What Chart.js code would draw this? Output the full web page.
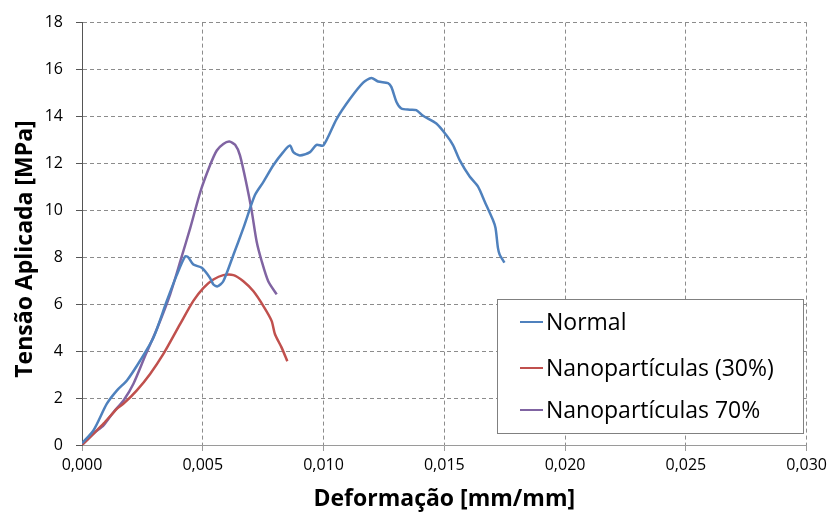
<!DOCTYPE html>
<html>
<head>
<meta charset="utf-8">
<script src="https://cdn.jsdelivr.net/npm/chart.js@4.4.0/dist/chart.umd.min.js"></script>
<style>
  html, body { margin: 0; padding: 0; background: #fff; }
  #wrap { width: 832px; height: 517px; position: relative; }
</style>
</head>
<body>
<div id="wrap"><canvas id="chart"></canvas></div>
<script>
// Normal
const normalX = [0, 0.00048, 0.00103, 0.00145, 0.00186, 0.00241, 0.00296, 0.00351, 0.00393, 0.00427, 0.0044, 0.00461, 0.00496, 0.0053, 0.00544, 0.00561, 0.00585, 0.00627, 0.00668, 0.00716, 0.00751, 0.00792, 0.00833, 0.00861, 0.00875, 0.00902, 0.00944, 0.00971, 0.00999, 0.01054, 0.01109, 0.01164, 0.01198, 0.01226, 0.01267, 0.01281, 0.01302, 0.01322, 0.01357, 0.01384, 0.01412, 0.01467, 0.01508, 0.01536, 0.01563, 0.01605, 0.01639, 0.01667, 0.01701, 0.01712, 0.01722, 0.01729, 0.01749];
const normalY = [0.07, 0.63, 1.76, 2.33, 2.75, 3.6, 4.58, 6.14, 7.26, 8.04, 8.0, 7.69, 7.55, 7.12, 6.84, 6.76, 6.98, 8.11, 9.24, 10.65, 11.21, 11.92, 12.48, 12.76, 12.48, 12.34, 12.48, 12.79, 12.76, 13.89, 14.74, 15.44, 15.64, 15.49, 15.42, 15.25, 14.62, 14.34, 14.29, 14.27, 14.03, 13.7, 13.21, 12.78, 12.15, 11.44, 11.02, 10.38, 9.6, 9.25, 8.4, 8.12, 7.77];

// Nanopartículas (30%)
const nano30X = [0, 0.00048, 0.0009, 0.00145, 0.00172, 0.00227, 0.00282, 0.00337, 0.00406, 0.00461, 0.00503, 0.00544, 0.00585, 0.00627, 0.00668, 0.00709, 0.00751, 0.00785, 0.00799, 0.00826, 0.0085];
const nano30Y = [0, 0.49, 0.92, 1.55, 1.76, 2.33, 3.03, 3.88, 5.15, 6.14, 6.7, 7.05, 7.24, 7.24, 6.98, 6.56, 5.92, 5.29, 4.72, 4.16, 3.57];

// Nanopartículas 70%
const nano70X = [0, 0.00048, 0.0009, 0.00131, 0.00172, 0.00213, 0.00262, 0.0031, 0.00365, 0.00413, 0.00448, 0.0049, 0.0053, 0.00558, 0.00585, 0.0061, 0.00634, 0.00654, 0.00682, 0.00702, 0.00723, 0.00744, 0.00771, 0.00806];
const nano70Y = [0, 0.49, 0.85, 1.41, 1.9, 2.61, 3.81, 4.94, 6.42, 8.04, 9.24, 10.79, 11.92, 12.55, 12.83, 12.93, 12.79, 12.34, 11.07, 10.01, 8.67, 7.83, 6.98, 6.42];

const seriesNames = ['Normal', 'Nanopartículas (30%)', 'Nanopartículas 70%'];
const colors = ['#4F81BD', '#C0504D', '#8064A2'];
const yTitle = 'Tensão Aplicada [MPa]';
const xTitle = 'Deformação [mm/mm]';

const FONT = '"Open Sans", Lato, sans-serif';

function toPoints(xs, ys) {
    return xs.map((x, i) => ({ x: x, y: ys[i] }));
}

// Legend box inside the plot area + y title placed like the Excel one
const boxLegend = {
    id: 'boxLegend',
    afterDraw(chart) {
        const ctx = chart.ctx;
        const x0 = 497, y0 = 299, w = 306, h = 134;
        ctx.save();
        ctx.fillStyle = '#fff';
        ctx.fillRect(x0, y0, w, h);
        ctx.strokeStyle = '#808080';
        ctx.lineWidth = 1;
        ctx.strokeRect(x0 + 0.5, y0 + 0.5, w, h);
        ctx.font = '23px ' + FONT;
        ctx.textBaseline = 'middle';
        ctx.fillStyle = '#000';
        const rows = [322, 368, 410];
        chart.data.datasets.forEach((ds, i) => {
            ctx.strokeStyle = ds.borderColor;
            ctx.lineWidth = 2;
            ctx.beginPath();
            ctx.moveTo(520, rows[i]);
            ctx.lineTo(543, rows[i]);
            ctx.stroke();
            ctx.fillText(ds.label, 546, rows[i] + 1);
        });

        // y axis title
        ctx.translate(25, 249);
        ctx.rotate(-Math.PI / 2);
        ctx.textAlign = 'center';
        ctx.font = 'bold 23px ' + FONT;
        ctx.fillText(yTitle, 0, 0);
        ctx.restore();
    }
};

const ctx = document.getElementById('chart').getContext('2d');
const chart = new Chart(ctx, {
    type: 'scatter',
    data: {
        datasets: [
            { label: seriesNames[0], data: toPoints(normalX, normalY) },
            { label: seriesNames[1], data: toPoints(nano30X, nano30Y) },
            { label: seriesNames[2], data: toPoints(nano70X, nano70Y) }
        ].map((d, i) => Object.assign(d, {
            showLine: true,
            borderColor: colors[i],
            backgroundColor: colors[i],
            borderWidth: 2.5,
            pointRadius: 0,
            tension: 0.25
        }))
    },
    options: {
        responsive: true,
        maintainAspectRatio: false,
        animation: false,
        layout: { padding: { top: 19, right: 24, left: 4, bottom: 4 } },
        plugins: {
            legend: { display: false },
            tooltip: { enabled: false }
        },
        scales: {
            x: {
                type: 'linear',
                min: 0,
                max: 0.03,
                afterFit: s => { s.height = 68; },
                border: { color: '#9a9a9a', width: 1, dash: [4, 3] },
                grid: {
                    color: '#8c8c8c',
                    tickColor: '#9a9a9a',
                    tickLength: 6,
                    tickBorderDash: [0, 0]
                },
                ticks: {
                    stepSize: 0.005,
                    color: '#000',
                    font: { family: FONT, size: 16 },
                    padding: 5,
                    callback: v => v.toFixed(3).replace('.', ',')
                },
                title: {
                    display: true,
                    text: xTitle,
                    color: '#000',
                    font: { family: FONT, size: 23, weight: 'bold' },
                    padding: { top: 0, bottom: 0 }
                }
            },
            y: {
                min: 0,
                max: 18,
                afterFit: s => { s.width = 78; },
                border: { color: '#555', width: 1, dash: [4, 3] },
                grid: {
                    color: '#8c8c8c',
                    tickColor: '#555',
                    tickLength: 6,
                    tickBorderDash: [0, 0]
                },
                ticks: {
                    stepSize: 2,
                    color: '#000',
                    font: { family: FONT, size: 16 },
                    padding: 13
                }
            }
        }
    },
    plugins: [boxLegend]
});
</script>
</body>
</html>
